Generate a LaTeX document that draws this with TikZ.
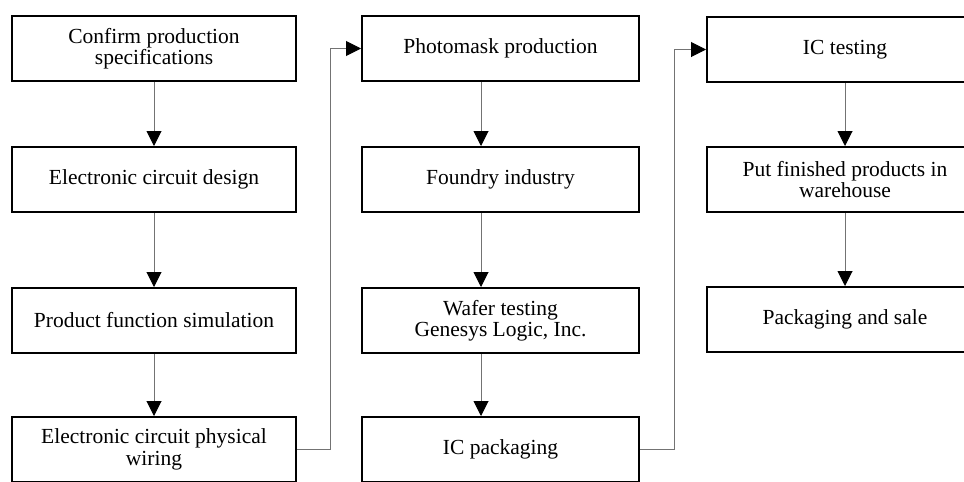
\documentclass[tikz,border=0pt]{standalone}
\usepackage{fontspec}
\setmainfont{Liberation Serif}
\usetikzlibrary{arrows.meta}
\usetikzlibrary{calc}

\begin{document}
\begin{tikzpicture}[x=1pt,y=-1pt,
		box/.style={draw,line width=2pt,minimum height=65pt,inner sep=0pt,align=center,font=\fontsize{21.5}{21.5}\selectfont},
		link/.style={-{Triangle[length=15pt,width=15pt,color=black]},line width=1pt,black!55}]
			\clip (0,0) rectangle (964,482);
			\node(spec) at (154,48.5)[box,minimum width=284pt]{Confirm production\\specifications};
			\node(design) at (154,179.5)[box,minimum width=284pt]{Electronic circuit design};
			\node(sim) at (154,320.5)[box,minimum width=284pt]{Product function simulation};
			\node(wiring) at (154,449.5)[box,minimum width=284pt]{Electronic circuit physical\\wiring};
			
			\node(mask) at (500.5,48.5)[box,minimum width=277pt]{Photomask production};
			\node(foundry) at (500.5,179.5)[box,minimum width=277pt]{Foundry industry};
			\node(wafer) at (500.5,320.5)[box,minimum width=277pt]{Wafer testing\\Genesys Logic, Inc.};
			\node(pack) at (500.5,449.5)[box,minimum width=277pt]{IC packaging};
			
			\node(test) at (845,49.5)[box,minimum width=276pt]{IC testing};
			\node(store) at (845,179.5)[box,minimum width=276pt]{Put finished products in\\warehouse};
			\node(sale) at (845,319.5)[box,minimum width=276pt]{Packaging and sale};
			
			\draw[link](spec) to (design);
			\draw[link](design) to (sim);
			\draw[link](sim) to (wiring);
			\draw[link](wiring.east) -- ++(33,0) |- (mask.west);
			\draw[link]([xshift=-19.5pt]mask.south) to ([xshift=-19.5pt]foundry.north);
			\draw[link]([xshift=-19.5pt]foundry.south) to ([xshift=-19.5pt]wafer.north);
			\draw[link]([xshift=-19.5pt]wafer.south) to ([xshift=-19.5pt]pack.north);
			\draw[link](pack.east) -- ++(34,0) |- (test.west);
			\draw[link](test) to (store);
			\draw[link](store) to (sale);
		\end{tikzpicture}
\end{document}
